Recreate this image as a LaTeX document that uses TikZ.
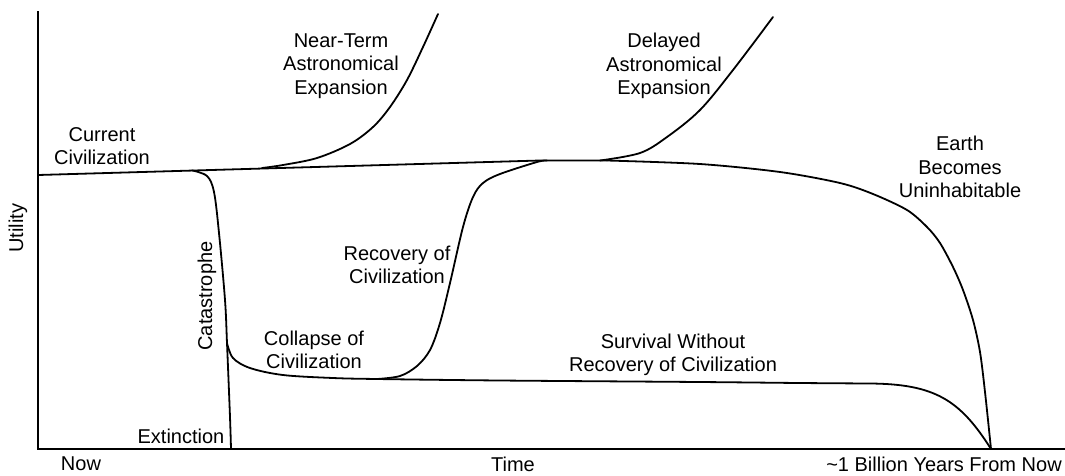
\documentclass[tikz,border=0pt]{standalone}
\usepackage{fontspec}
\setmainfont{Liberation Sans}
\begin{document}
\begin{tikzpicture}[x=1pt,y=-1pt,
  curve/.style={line width=1.8pt,line join=round,line cap=round},
  axis/.style={line width=1.9pt},
  lbl/.style={inner sep=0pt,align=center,font=\fontsize{20}{23.5}\selectfont}]
\useasboundingbox (0,0) rectangle (1065,475);
% axes
\coordinate (orig) at (38,449);
\coordinate (ytop) at (38,11);
\coordinate (xend) at (1065,449);
\coordinate (doom) at (991,449);
\draw[axis] (ytop) -- (orig) -- (xend);
% main line
\draw[curve] (38,175) -- (540,160.5) -- (607,160.5);
% Earth becomes uninhabitable
\draw[curve] plot[smooth,tension=0.5] coordinates {(607,160.5) (700,164) (780,172) (840,183) (873,194) (907,210) (927,227) (940,243) (953,267) (963,290) (973,320) (980,352) (985,392) (991,449)};
% near-term expansion
\draw[curve] plot[smooth,tension=0.55] coordinates {(262,168) (283,165) (317,158) (350,144) (373,127) (390,107) (407,80) (423,47) (438,14)};
% delayed expansion
\draw[curve] plot[smooth,tension=0.55] coordinates {(600,160.5) (640,153) (667,137) (700,110) (733,70) (773,17)};
% catastrophe
\draw[curve] plot[smooth,tension=0.55] coordinates {(192,170.4) (207,176) (214,192) (219,233) (225,300) (227,343) (230,417) (231,449)};
% collapse and survival
\draw[curve] plot[smooth,tension=0.55] coordinates {(227,343) (233,358) (250,368) (283,375) (333,378) (377,379) (500,380.5) (700,382) (800,383) (870,383.5)}
  .. controls (935,384) and (960,400) .. (doom);
% recovery
\draw[curve] plot[smooth,tension=0.55] coordinates {(377,379) (400,376) (417,366) (430,350) (440,323) (450,283) (463,227) (473,197) (483,183) (500,174) (537,162) (547,160.5)};
% labels
\node[lbl] (cur) at (102,146) {Current\\Civilization};
\node[lbl] (ntae) at (341,66) {Near-Term\\Astronomical\\Expansion};
\node[lbl] (dae) at (664,66) {Delayed\\Astronomical\\Expansion};
\node[lbl] (earth) at (960,167) {Earth\\Becomes\\Uninhabitable};
\node[lbl] (rec) at (397,265) {Recovery of\\Civilization};
\node[lbl,rotate=90] (cata) at (207,296) {Catastrophe};
\node[lbl] (coll) at (314,350) {Collapse of\\Civilization};
\node[lbl] (ext) at (181,436) {Extinction};
\node[lbl] (surv) at (673,355) {Survival Without\\Recovery of Civilization};
\node[lbl] (now) at (81,464) {Now};
\node[lbl] (time) at (513,464) {Time};
\node[lbl] (bil) at (944,464) {\textasciitilde 1 Billion Years From Now};
\node[lbl,rotate=90] (util) at (18,228) {Utility};
\end{tikzpicture}
\end{document}
